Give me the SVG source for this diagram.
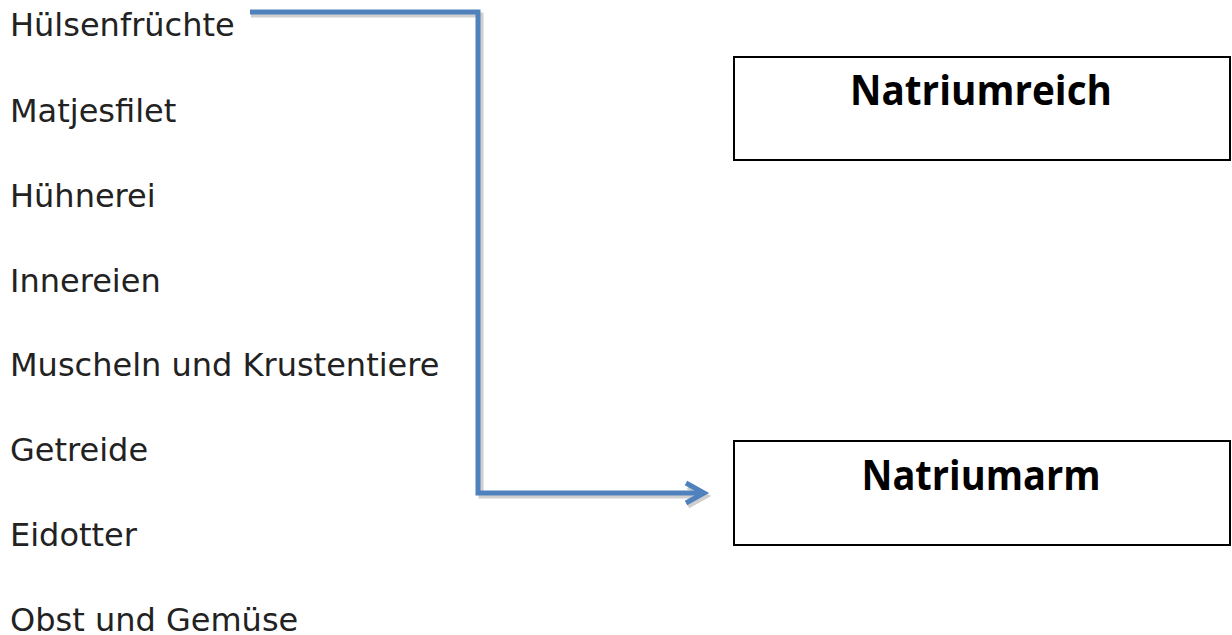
<svg xmlns="http://www.w3.org/2000/svg" width="1232" height="635" viewBox="0 0 1232 635">
<style>
.item{font-family:"DejaVu Sans",Verdana,sans-serif;font-size:32px;fill:#222}
.box{fill:#fff;stroke:#000;stroke-width:2}
.lbl{font-family:"Open Sans","Noto Sans",sans-serif;font-weight:700;font-size:41px;fill:#000;text-anchor:middle}
.conn{fill:none;stroke:#4F81BD;stroke-width:5;stroke-linejoin:miter}
.shadow{fill:none;stroke:#CFCFCF;stroke-width:5}
</style>
<rect width="1232" height="635" fill="#fff"/>
<g id="items">
<text class="item" x="10" y="36">Hülsenfrüchte</text>
<text class="item" x="10" y="122">Matjesfilet</text>
<text class="item" x="10" y="207">Hühnerei</text>
<text class="item" x="10" y="292">Innereien</text>
<text class="item" x="10" y="376">Muscheln und Krustentiere</text>
<text class="item" x="10" y="461">Getreide</text>
<text class="item" x="10" y="546">Eidotter</text>
<text class="item" x="10" y="631">Obst und Gemüse</text>
</g>
<g id="node-reich">
<rect class="box" x="734" y="57" width="496" height="103"/>
<text class="lbl" x="981" y="105" textLength="262" lengthAdjust="spacingAndGlyphs">Natriumreich</text>
</g>
<g id="node-arm">
<rect class="box" x="734" y="441" width="496" height="104"/>
<text class="lbl" x="981" y="490" textLength="239" lengthAdjust="spacingAndGlyphs">Natriumarm</text>
</g>
<g id="connectors">
<polyline class="shadow" points="251,15 481,15 481,496 703,496"/>
<polyline class="shadow" points="688,487 706,496 688,506"/>
<polyline class="conn" points="250,12 478,12 478,493 703,493"/>
<polyline class="conn" points="686,483 704,493 686,503"/>
</g>
</svg>
